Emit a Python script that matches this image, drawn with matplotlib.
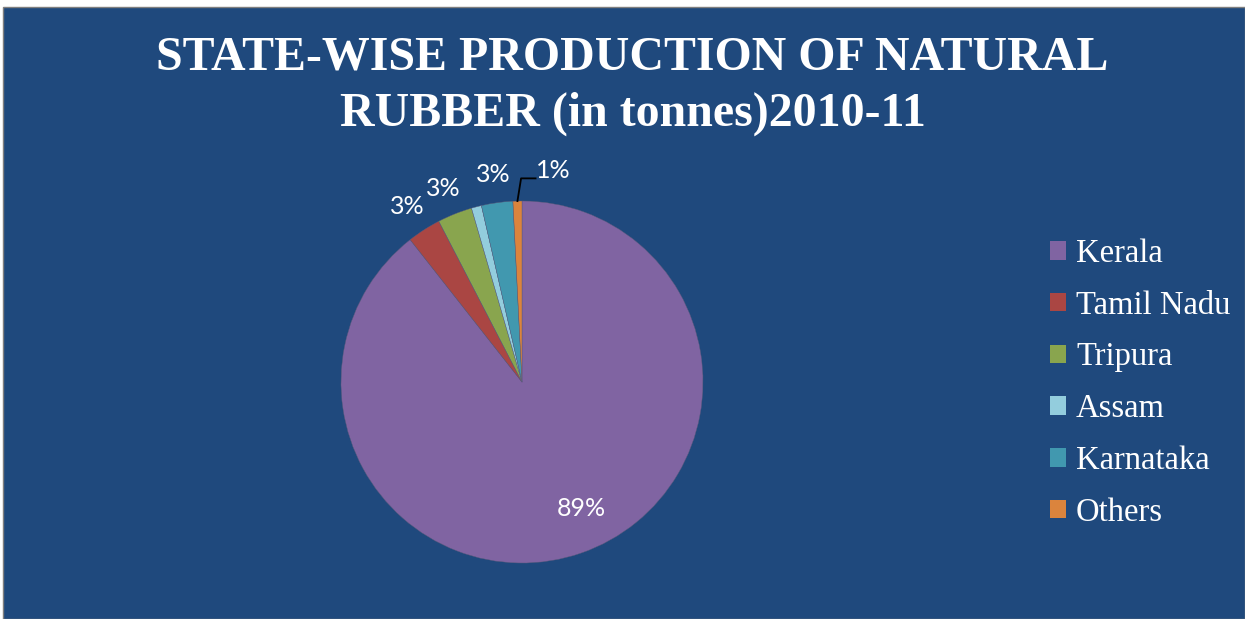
import numpy as np
import matplotlib.pyplot as plt
from matplotlib.patches import Rectangle

states = ["Kerala", "Tamil Nadu", "Tripura", "Assam", "Karnataka", "Others"]
production = [770580, 25860, 26720, 7760, 24130, 6900]  # tonnes, 2010-11
colors = ["#8064A2", "#AA4643", "#89A54E", "#93CDDD", "#4198AF", "#DB843D"]
show_label = [True, True, True, False, True, True]

BG = "#1F497D"


def main():
    fig = plt.figure(figsize=(12.45, 6.19), dpi=100, facecolor="white")
    fig.patches.append(Rectangle((3 / 1245, 0), 1 - 3 / 1245, 1 - 7 / 619,
                                 transform=fig.transFigure, facecolor=BG,
                                 edgecolor="#7F7F7F", linewidth=1.0, zorder=-5))

    fig.text(0.508, 1 - 58 / 619, "STATE-WISE PRODUCTION OF NATURAL",
             ha="center", va="center", color="white", fontsize=34.5,
             fontweight="bold", family="Liberation Serif")
    fig.text(0.508, 1 - 114 / 619, "RUBBER (in tonnes)2010-11",
             ha="center", va="center", color="white", fontsize=34.5,
             fontweight="bold", family="Liberation Serif")

    ax = fig.add_axes([341 / 1245, 56 / 619, 362 / 1245, 362 / 619])
    wedges, _ = ax.pie(production, colors=colors, startangle=90,
                       counterclock=False, radius=1.0,
                       wedgeprops=dict(linewidth=0.3, edgecolor="#5a5a7a"))
    ax.set_xlim(-1, 1)
    ax.set_ylim(-1, 1)
    ax.set_aspect("equal")
    ax.axis("off")

    total = sum(production)
    lbl = dict(color="white", fontsize=18, family="Lato", clip_on=False)
    for i, w in enumerate(wedges):
        if not show_label[i]:
            continue
        pct = "%d%%" % round(100 * production[i] / total)
        mid = np.deg2rad((w.theta1 + w.theta2) / 2)
        if i == 0:
            r = 0.72
            ax.text(r * np.cos(mid) + 0.09, r * np.sin(mid) - 0.02, pct,
                    ha="center", va="center", **lbl)
        elif states[i] == "Others":
            x0, y0 = np.cos(mid), np.sin(mid)
            ax.plot([x0, x0 + 0.02, x0 + 0.1], [y0, 1.125, 1.125],
                    color="black", lw=1.3, clip_on=False)
            ax.text(x0 + 0.1, 1.17, pct, ha="left", va="center", **lbl)
        else:
            r = 1.17
            ax.text(r * np.cos(mid), r * np.sin(mid) - 0.015, pct,
                    ha="center", va="center", **lbl)

    leg = fig.legend(wedges, states, loc="center left",
                     bbox_to_anchor=(1050 / 1245, 1 - 383 / 619),
                     frameon=False, borderpad=0, borderaxespad=0,
                     handlelength=0.5, handleheight=0.5, handletextpad=0.3,
                     labelspacing=0.65,
                     prop={"family": "Liberation Serif", "size": 23.5})
    for t in leg.get_texts():
        t.set_color("white")
    for h in leg.legend_handles:
        h.set_edgecolor("none")

    fig.savefig("out.png", dpi=100, facecolor=fig.get_facecolor())


if __name__ == "__main__":
    main()
